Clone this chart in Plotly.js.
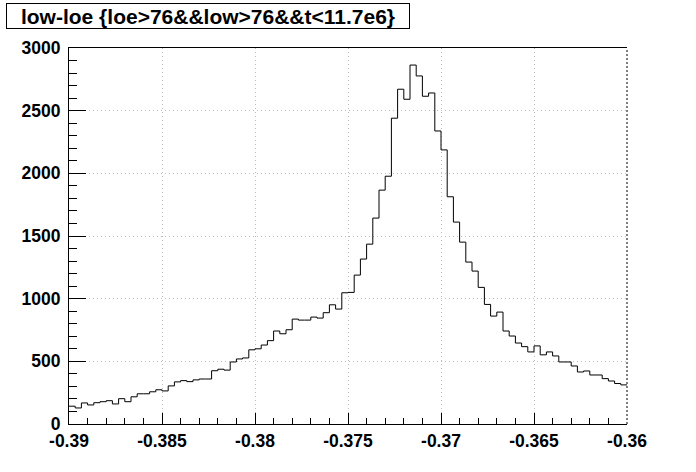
<!DOCTYPE html>
<html>
<head>
<meta charset="utf-8">
<script src="https://cdn.plot.ly/plotly-3.0.1.min.js"></script>
<style>html,body{margin:0;padding:0;background:#fff;}#chart{width:696px;height:472px;}</style>
</head>
<body>
<div id="chart"></div>
<script>
// Histogram definition
const xMin = -0.39;
const xMax = -0.36;
const nBins = 90;

// Bin contents
const counts = [
  142, 128, 168, 152, 170, 178, 186, 160, 202, 178,
  217, 241, 241, 257, 273, 264, 304, 336, 346, 338,
  352, 359, 359, 425, 437, 430, 495, 519, 527, 592,
  600, 630, 665, 742, 720, 752, 837, 829, 829, 853,
  845, 888, 951, 917, 1047, 1050, 1188, 1316, 1435, 1643,
  1866, 1977, 2440, 2671, 2591, 2864, 2777, 2615, 2641, 2338,
  2187, 1813, 1611, 1451, 1292, 1220, 1090, 954, 861, 893,
  742, 702, 646, 617, 575, 623, 552, 575, 543, 495,
  495, 463, 415, 423, 391, 391, 362, 343, 323, 312
];

// Tick labels
const xTickVals = [-0.39, -0.385, -0.38, -0.375, -0.37, -0.365, -0.36];
const xTickText = ["-0.39", "-0.385", "-0.38", "-0.375", "-0.37", "-0.365", "-0.36"];
const yTickVals = [0, 500, 1000, 1500, 2000, 2500, 3000];
const yTickText = ["0", "500", "1000", "1500", "2000", "2500", "3000"];

const titleText = "low-loe {loe>76&&low>76&&t<11.7e6}";

// Build step outline from bin edges
const binW = (xMax - xMin) / nBins;
const xs = [], ys = [];
for (let i = 0; i < nBins; i++) { xs.push(xMin + i * binW); ys.push(counts[i]); }
xs.push(xMax); ys.push(counts[nBins - 1]);

const tickFont = {family: "Liberation Sans, Arial, sans-serif", size: 17.5, color: "#000", weight: "bold"};

const trace = {
  type: "scatter", mode: "lines", x: xs, y: ys,
  line: {shape: "hv", color: "#000", width: 1},
  hoverinfo: "x+y"
};

const layout = {
  width: 696, height: 472,
  margin: {l: 69, r: 69, t: 48, b: 48, pad: 0},
  paper_bgcolor: "#fff", plot_bgcolor: "#fff",
  showlegend: false,
  xaxis: {
    range: [xMin, xMax], tickmode: "array", tickvals: xTickVals, ticktext: xTickText,
    ticks: "inside", ticklen: 11, tickcolor: "#000", tickwidth: 1,
    showline: true, linecolor: "#000", linewidth: 1, mirror: true,
    showgrid: true, gridcolor: "#bdbdbd", griddash: "1px,3px", gridwidth: 1,
    zeroline: false, tickfont: tickFont, ticklabelstandoff: 1,
    minor: {dtick: 0.001, tick0: xMin, ticks: "inside", ticklen: 6, tickcolor: "#000", showgrid: false}
  },
  yaxis: {
    range: [0, 3000], tickmode: "array", tickvals: yTickVals, ticktext: yTickText,
    ticks: "inside", ticklen: 17, tickcolor: "#000", tickwidth: 1,
    showline: true, linecolor: "#000", linewidth: 1, mirror: false,
    showgrid: true, gridcolor: "#bdbdbd", griddash: "1px,3px", gridwidth: 1,
    zeroline: false, tickfont: tickFont, ticklabelstandoff: 4,
    minor: {dtick: 100, tick0: 0, ticks: "inside", ticklen: 8, tickcolor: "#000", showgrid: false}
  },
  shapes: [
    {type: "line", xref: "paper", yref: "paper", x0: 1, x1: 1, y0: 0, y1: 1,
     line: {color: "#000", width: 1, dash: "2px,2px"}}
  ],
  annotations: [
    {text: titleText, xref: "paper", yref: "paper", x: 0.2498, y: 1.0854,
     xanchor: "center", yanchor: "middle", showarrow: false,
     width: 402, height: 24, bordercolor: "#000", borderwidth: 1, borderpad: 0,
     bgcolor: "#fff",
     font: {family: "Liberation Sans, Arial, sans-serif", size: 21, color: "#000", weight: "bold"}}
  ]
};

Plotly.newPlot("chart", [trace], layout, {displayModeBar: false, staticPlot: true});
</script>
</body>
</html>
